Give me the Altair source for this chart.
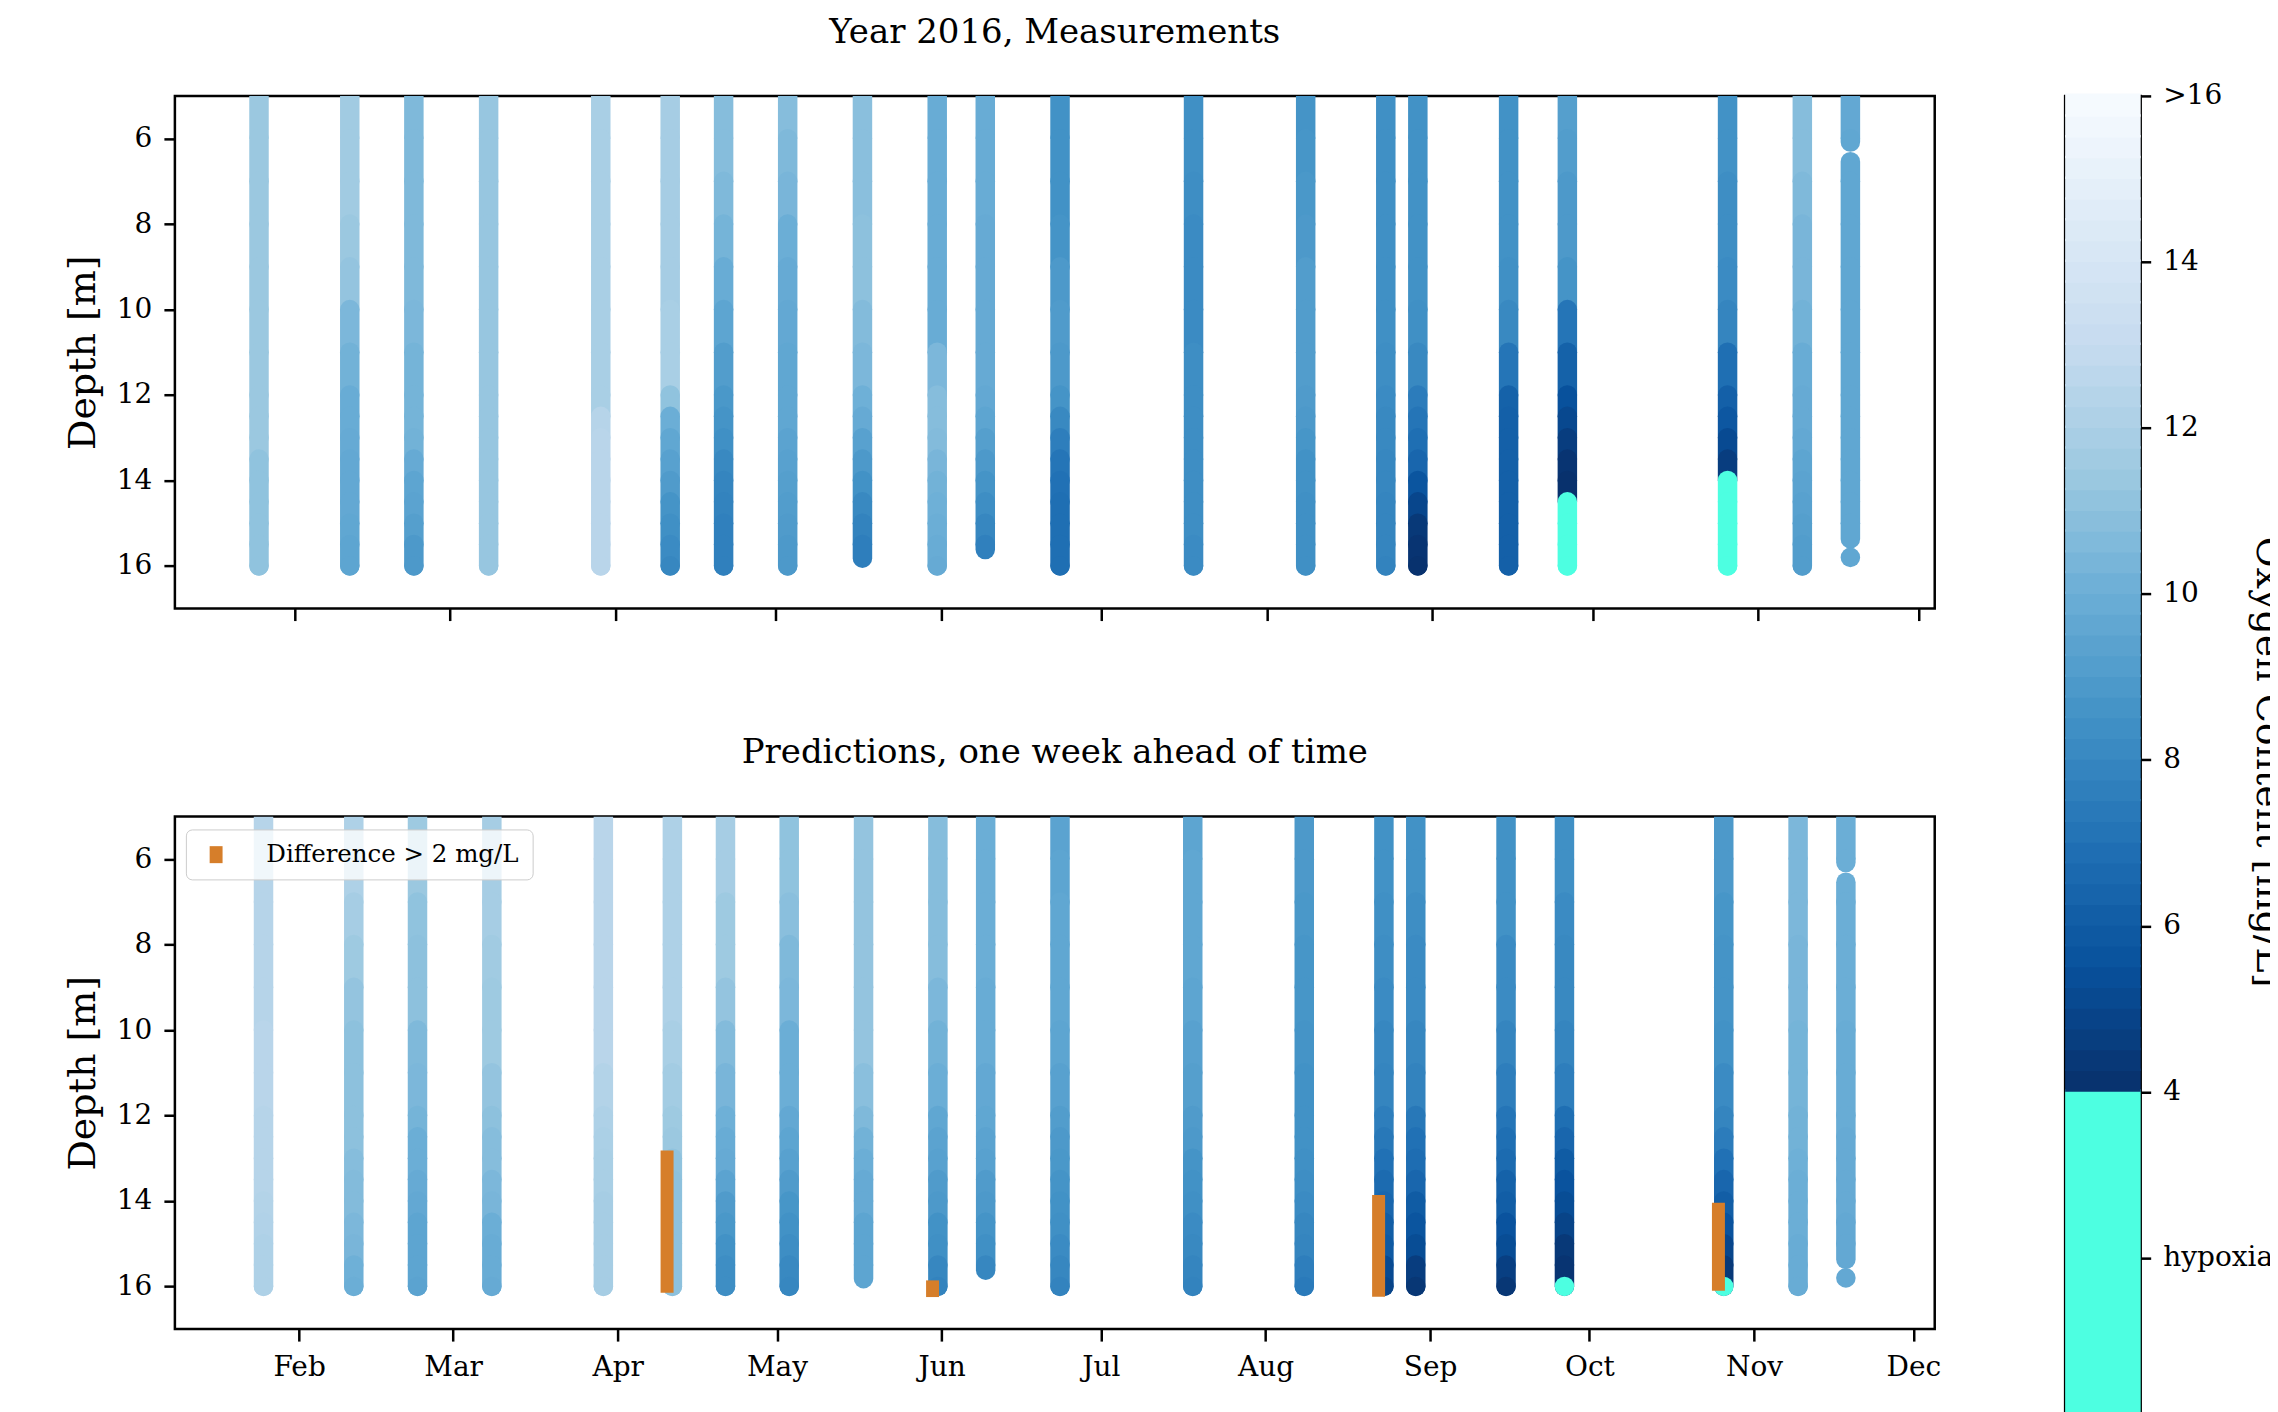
import altair as alt
import pandas as pd

FONT = "DejaVu Serif"

# sampling dates of the oxygen profiles (2016)
DATES = ["2016-01-25", "2016-02-11", "2016-02-23", "2016-03-08", "2016-03-29",
         "2016-04-11", "2016-04-21", "2016-05-03", "2016-05-17", "2016-05-31",
         "2016-06-09", "2016-06-23", "2016-07-18", "2016-08-08", "2016-08-23",
         "2016-08-29", "2016-09-15", "2016-09-26", "2016-10-26", "2016-11-09",
         "2016-11-18"]

# depth levels [m] at which values were read
DEPTHS = [5, 6, 7, 8, 9, 10, 11, 12, 12.5, 13, 13.5, 14, 14.5, 15, 15.5, 16]

# depth extent of each profile (top, bottom); gaps where a profile is interrupted
PROFILE_EXTENTS = [
    [(5.0, 16.0)], [(5.0, 16.0)], [(5.0, 16.0)], [(5.0, 16.0)], [(5.0, 16.0)],
    [(5.0, 16.0)], [(5.0, 16.0)], [(5.0, 16.0)], [(5.0, 15.82)], [(5.0, 16.0)],
    [(5.0, 15.62)], [(5.0, 16.0)], [(5.0, 16.0)], [(5.0, 16.0)], [(5.0, 16.0)],
    [(5.0, 16.0)], [(5.0, 16.0)], [(5.0, 16.0)], [(5.0, 16.0)], [(5.0, 16.0)],
    [(5.0, 6.08), (6.54, 15.37), (15.8, 15.8)],
]

# measured oxygen content [mg/L], one row per date, one value per depth level
MEASURED = [
    [11.4, 11.4, 11.4, 11.4, 11.4, 11.4, 11.4, 11.4, 11.4, 11.4, 11.1, 11.1, 11.1, 11.1, 11.1, 11.1],
    [11.6, 11.6, 11.6, 11.4, 11.2, 10.5, 10.2, 9.9, 9.9, 9.8, 9.7, 9.7, 9.7, 9.6, 9.5, 9.5],
    [10.6, 10.6, 10.6, 10.6, 10.6, 10.5, 10.3, 10.3, 10.3, 10.2, 9.8, 9.5, 9.4, 9.2, 8.9, 8.9],
    [11.3, 11.3, 11.3, 11.3, 11.3, 11.3, 11.3, 11.3, 11.3, 11.3, 11.3, 11.3, 11.3, 11.3, 11.3, 11.3],
    [11.9, 11.9, 11.9, 11.9, 11.9, 11.9, 11.9, 11.9, 12.4, 12.5, 12.5, 12.5, 12.5, 12.5, 12.5, 12.5],
    [11.8, 11.8, 11.8, 11.8, 11.8, 11.9, 11.9, 11.1, 10.0, 9.6, 9.3, 9.0, 8.6, 8.4, 8.2, 8.0],
    [10.8, 10.8, 10.6, 10.3, 9.9, 9.5, 9.1, 8.8, 8.6, 8.4, 8.1, 7.9, 7.8, 7.7, 7.7, 7.7],
    [10.8, 10.6, 10.4, 10.0, 9.8, 9.7, 9.6, 9.6, 9.6, 9.4, 9.3, 9.2, 9.1, 9.0, 8.9, 8.9],
    [10.9, 10.9, 10.9, 11.0, 11.0, 10.7, 10.5, 10.1, 9.8, 9.3, 8.9, 8.5, 8.1, 7.8, 7.6, 7.4],
    [9.9, 9.9, 9.9, 9.9, 9.9, 9.9, 10.5, 10.8, 10.8, 10.7, 10.4, 10.2, 10.1, 10.0, 9.9, 9.8],
    [9.9, 9.9, 9.9, 9.8, 9.8, 9.8, 9.8, 9.7, 9.5, 9.2, 8.9, 8.6, 8.3, 8.0, 7.7, 7.7],
    [8.5, 8.5, 8.5, 8.6, 8.9, 9.0, 8.9, 8.6, 8.1, 7.6, 7.2, 7.0, 6.9, 6.9, 6.9, 6.9],
    [8.4, 8.4, 8.3, 8.2, 8.2, 8.2, 8.3, 8.3, 8.3, 8.3, 8.3, 8.3, 8.3, 8.3, 8.2, 8.2],
    [8.6, 8.7, 8.8, 8.9, 9.1, 9.1, 9.1, 9.0, 8.9, 8.7, 8.5, 8.5, 8.4, 8.4, 8.4, 8.4],
    [8.4, 8.4, 8.4, 8.4, 8.4, 8.4, 8.3, 8.2, 8.1, 8.1, 8.0, 8.0, 7.9, 7.9, 7.9, 7.8],
    [8.5, 8.5, 8.5, 8.5, 8.5, 8.4, 8.1, 7.5, 7.2, 6.9, 6.5, 5.7, 5.0, 4.4, 4.2, 4.1],
    [8.5, 8.5, 8.5, 8.5, 8.4, 8.1, 7.2, 6.3, 6.2, 6.2, 6.2, 6.2, 6.2, 6.2, 6.2, 6.2],
    [9.2, 9.1, 8.9, 8.9, 8.6, 7.2, 6.3, 5.5, 5.1, 4.6, 4.2, 4.05, 3.0, 3.0, 3.0, 3.0],
    [8.5, 8.5, 8.3, 8.3, 8.2, 7.9, 6.9, 6.2, 5.8, 5.2, 4.6, 3.0, 3.0, 3.0, 3.0, 3.0],
    [10.8, 10.8, 10.6, 10.4, 10.4, 10.2, 9.9, 9.8, 9.8, 9.7, 9.5, 9.4, 9.3, 9.2, 9.1, 9.1],
    [9.7, 9.6, 9.6, 9.6, 9.6, 9.6, 9.6, 9.6, 9.6, 9.6, 9.6, 9.6, 9.6, 9.6, 9.6, 9.6],
]

# predicted oxygen content [mg/L], one week ahead
PREDICTED = [
    [12.4, 12.4, 12.4, 12.4, 12.4, 12.5, 12.5, 12.4, 12.4, 12.4, 12.4, 12.3, 12.2, 12.1, 12.1, 12.1],
    [12.1, 12.1, 11.8, 11.5, 11.2, 11.0, 11.0, 11.0, 11.0, 10.8, 10.7, 10.7, 10.5, 10.4, 10.1, 10.0],
    [11.5, 11.4, 11.1, 11.0, 11.0, 10.6, 10.5, 10.3, 10.0, 10.0, 9.8, 9.7, 9.5, 9.5, 9.5, 9.4],
    [11.8, 11.8, 11.8, 11.6, 11.5, 11.5, 11.2, 11.0, 10.8, 10.8, 10.5, 10.4, 10.0, 9.9, 9.9, 9.8],
    [12.5, 12.5, 12.5, 12.5, 12.5, 12.5, 12.3, 12.1, 12.0, 11.9, 11.9, 11.8, 11.8, 11.8, 11.8, 11.8],
    [12.1, 12.1, 12.1, 12.1, 12.1, 11.9, 11.7, 11.5, 11.4, 11.1, 11.0, 11.0, 11.0, 11.0, 11.0, 11.0],
    [11.8, 11.8, 11.5, 11.5, 11.2, 10.7, 10.4, 10.1, 9.9, 9.8, 9.4, 9.0, 8.8, 8.5, 8.3, 8.3],
    [11.1, 11.1, 10.9, 10.6, 10.5, 10.0, 10.0, 9.7, 9.5, 9.3, 9.0, 8.7, 8.5, 8.3, 8.1, 8.0],
    [11.2, 11.2, 11.2, 11.2, 11.2, 11.2, 10.9, 10.6, 10.2, 10.0, 9.8, 9.8, 9.5, 9.5, 9.5, 9.5],
    [10.8, 10.8, 10.8, 10.8, 10.5, 10.2, 10.0, 9.6, 9.4, 9.3, 9.0, 8.9, 8.5, 8.4, 8.0, 7.8],
    [10.0, 10.0, 10.0, 10.0, 9.9, 9.9, 9.7, 9.6, 9.4, 9.3, 9.0, 8.9, 8.6, 8.4, 8.0, 8.0],
    [9.4, 9.5, 9.6, 9.6, 9.6, 9.5, 9.3, 9.1, 8.9, 8.8, 8.6, 8.5, 8.4, 8.2, 8.0, 7.8],
    [9.5, 9.6, 9.6, 9.6, 9.5, 9.3, 9.2, 9.0, 8.9, 8.6, 8.5, 8.4, 8.2, 8.1, 7.9, 7.8],
    [8.9, 8.9, 8.8, 8.7, 8.7, 8.6, 8.5, 8.5, 8.5, 8.4, 8.3, 8.2, 8.0, 7.9, 7.6, 7.4],
    [8.5, 8.5, 8.4, 8.3, 8.2, 8.0, 7.9, 7.6, 7.3, 7.0, 6.7, 6.5, 6.1, 5.9, 5.2, 4.9],
    [8.5, 8.5, 8.3, 8.2, 8.2, 8.0, 7.8, 7.3, 7.0, 6.8, 6.5, 6.0, 5.7, 5.3, 4.6, 4.3],
    [8.5, 8.5, 8.5, 8.2, 8.2, 7.9, 7.6, 7.2, 6.9, 6.7, 6.3, 6.1, 5.6, 5.3, 4.7, 4.3],
    [8.4, 8.4, 8.2, 8.1, 8.1, 7.9, 7.6, 6.9, 6.5, 6.0, 5.6, 5.3, 4.9, 4.4, 4.2, 3.0],
    [8.9, 8.9, 8.7, 8.6, 8.6, 8.5, 8.2, 7.9, 7.5, 7.0, 6.5, 6.1, 5.6, 5.0, 4.4, 3.0],
    [10.5, 10.5, 10.5, 10.4, 10.4, 10.3, 10.3, 10.2, 10.2, 10.1, 10.0, 10.0, 10.0, 9.9, 9.9, 9.9],
    [10.0, 10.0, 10.0, 10.0, 10.0, 9.9, 9.9, 9.9, 9.8, 9.8, 9.8, 9.8, 9.7, 9.7, 9.7, 9.7],
]

# depths where prediction and measurement differ by more than 2 mg/L
DIFF_LABEL = "Difference > 2 mg/L"
DIFF_DATES = ["2016-04-10", "2016-05-30", "2016-08-22", "2016-10-25"]
DIFF_TOP = [12.82, 15.86, 13.86, 14.04]
DIFF_BOTTOM = [16.15, 16.25, 16.24, 16.1]

# colour map: hypoxia (< 4 mg/L) in cyan, Blues (reversed) from 4 to 16
CMAP_STOPS = [0, 3.999, 4, 5.5, 7, 8.5, 10, 11.5, 13, 14.5, 16]
CMAP_COLORS = ["#4dffe1", "#4dffe1", "#08306b", "#08519c", "#2171b5", "#4292c6",
               "#6baed6", "#9ecae1", "#c6dbef", "#deebf7", "#f7fbff"]
CBAR_TICKS = [2, 4, 6, 8, 10, 12, 14, 16]
CBAR_LO = [0.0] + [4 + 0.25 * i for i in range(48)]
CBAR_HI = [4.0] + [4.25 + 0.25 * i for i in range(48)]

MONTHS = [2, 3, 4, 5, 6, 7, 8, 9, 10, 11, 12]
DEPTH_TICKS = [6, 8, 10, 12, 14, 16]


def profile_rows(values):
    rows = []
    for date, prof, extents in zip(DATES, values, PROFILE_EXTENTS):
        for i, (d, v) in enumerate(zip(DEPTHS, prof)):
            seg_top = d
            seg_bot = DEPTHS[i + 1] if i + 1 < len(DEPTHS) else d
            for et, eb in extents:
                t = max(seg_top, et)
                b = min(seg_bot, eb)
                if t <= b:
                    if b - t < 0.001:
                        b = t + 0.002
                    rows.append({"date": date + "T07:00:00", "top": t,
                                 "bottom": b, "oxygen": v, "flat": i == 0})
    return pd.DataFrame(rows)


meas_df = profile_rows(MEASURED)
pred_df = profile_rows(PREDICTED)
diff_df = pd.DataFrame({"date": [d + "T07:00:00" for d in DIFF_DATES],
                        "top": DIFF_TOP, "bottom": DIFF_BOTTOM,
                        "kind": [DIFF_LABEL] * len(DIFF_DATES)})

CB_MIN = 0.0
cbar_df = pd.DataFrame({"lo": [max(lo, CB_MIN) for lo in CBAR_LO],
                        "hi": [h + 0.03 for h in CBAR_HI],
                        "mid": [(a + b) / 2 for a, b in zip(CBAR_LO, CBAR_HI)]})

color_scale = alt.Scale(domain=CMAP_STOPS, range=CMAP_COLORS, interpolate="rgb")
x_scale = alt.Scale(domain=[alt.DateTime(year=2016, month=1, date=9, hours=13),
                            alt.DateTime(year=2016, month=12, date=4, hours=2)])
y_scale = alt.Scale(domain=[5, 17], reverse=True, nice=False, zero=False)

PW, PH = 1761, 513


def x_enc(show_labels):
    return alt.X("date:T", scale=x_scale,
                 axis=alt.Axis(values=[alt.DateTime(year=2016, month=m, date=1) for m in MONTHS],
                               format="%b", labels=show_labels, labelFont=FONT,
                               labelFontSize=28, labelColor="black", labelPadding=12,
                               labelFlush=False, labelOverlap=False,
                               tickSize=12, tickWidth=2.5, tickColor="black",
                               domain=False, grid=False, title=None))


y_enc = alt.Y("top:Q", scale=y_scale,
              axis=alt.Axis(values=DEPTH_TICKS, title="Depth [m]", titleFont=FONT,
                            titleFontSize=38, titleFontWeight="normal", titleColor="black",
                            titlePadding=14, labelFont=FONT, labelFontSize=28,
                            labelColor="black", labelPadding=12, tickSize=11,
                            tickWidth=2.5, tickColor="black", domain=False, grid=False))


def panel_title(text):
    return alt.TitleParams(text, font=FONT, fontSize=34, fontWeight="normal",
                           color="black", offset=19, baseline="alphabetic")


def profiles(df, show_labels):
    base = alt.Chart(df).encode(
        x=x_enc(show_labels), y=y_enc, y2="bottom:Q",
        color=alt.Color("oxygen:Q", scale=color_scale, legend=None))
    flat = base.transform_filter("datum.flat").mark_rule(
        strokeWidth=19.5, strokeCap="butt", clip=True)
    rnd = base.transform_filter("!datum.flat").mark_rule(
        strokeWidth=19.5, strokeCap="round", clip=True)
    return [flat, rnd]


top = alt.layer(*profiles(meas_df, False)).properties(
    width=PW, height=PH, title=panel_title("Year 2016, Measurements"))

diff_layer = alt.Chart(diff_df).mark_bar(size=13).encode(
    x=x_enc(True), y=y_enc, y2="bottom:Q",
    fill=alt.Fill("kind:N", scale=alt.Scale(domain=[DIFF_LABEL], range=["#d67e2a"]),
                  legend=alt.Legend(title=None, orient="none", legendX=11, legendY=13,
                                    fillColor="rgba(255,255,255,0.8)", strokeColor="#cccccc",
                                    cornerRadius=6, padding=13,
                                    symbolType="M-0.76,-1H0.76V1H-0.76Z", symbolSize=289,
                                    symbolStrokeWidth=0, symbolOffset=5,
                                    labelFont=FONT, labelFontSize=24.5, labelColor="black",
                                    labelOffset=38, labelLimit=0)))

bottom = alt.layer(*profiles(pred_df, True), diff_layer).properties(
    width=PW, height=PH, title=panel_title("Predictions, one week ahead of time"))

CB_W = 75.6
CB_H = (16 - CB_MIN) * 83.05
cbar = alt.Chart(cbar_df).mark_rect().encode(
    x=alt.value(0), x2=alt.value(CB_W),
    y=alt.Y("lo:Q", scale=alt.Scale(domain=[CB_MIN, 16], nice=False, zero=False),
            axis=alt.Axis(orient="right", values=CBAR_TICKS,
                          labelExpr="datum.value == 16 ? '>16' : (datum.value == 2 ? 'hypoxia' : datum.label)",
                          labelFont=FONT, labelFontSize=28, labelColor="black",
                          labelPadding=12, tickSize=10, tickWidth=2.5, tickColor="black",
                          domain=False, grid=False,
                          title="Oxygen Content [mg/L]", titleFont=FONT, titleFontSize=38,
                          titleFontWeight="normal", titleColor="black", titleAngle=90,
                          titleAlign="center", titleBaseline="alphabetic",
                          titleX=116, titleY=666)),
    y2="hi:Q",
    color=alt.Color("mid:Q", scale=color_scale, legend=None),
).properties(width=CB_W, height=CB_H)

chart = alt.hconcat(
    alt.vconcat(top, bottom, spacing=111).resolve_legend(fill="independent"),
    cbar, spacing=120.5,
).resolve_legend(fill="independent").properties(
    padding={"left": 55, "top": 5.5, "right": -18.5, "bottom": 0}
).configure(font=FONT).configure_view(stroke="black", strokeWidth=2.5)

chart.save("out.html", embed_options={"renderer": "svg", "actions": False})
